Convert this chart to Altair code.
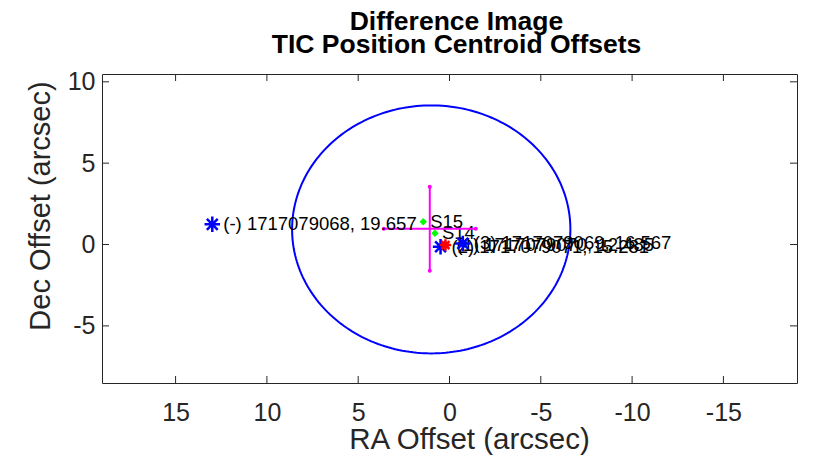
import altair as alt
import numpy as np
import pandas as pd

# ---- data ----
# TIC objects (RA offset, Dec offset in arcsec) and their labels
tic_ra = [12.99, 0.49, 0.22, -0.73]
tic_dec = [1.24, -0.14, -0.03, 0.07]
tic_label = ["(-) 1717079068, 19.657", "(2) 1717079071, 15.281",
             "(1) 1717079070, 12.485", "(3) 1717079069, 16.567"]
tic_target = [False, False, True, False]

# per-sector centroid offsets
sector_ra = [1.44, 0.80]
sector_dec = [1.40, 0.69]
sector_label = ["S15", "S14"]

# mean centroid offset and its error bars
mean_ra = [1.08]
mean_dec = [0.97]
ra_err = [2.52]
dec_err = [2.58]

# 3-sigma circle
circle_ra = 1.0
circle_dec = 0.93
circle_r = 7.62

x_ticks = [-15, -10, -5, 0, 5, 10, 15]
y_ticks = [-5, 0, 5, 10]

W, H = 695, 309
FONT = "Liberation Sans"
AX = "#262626"
TL = 7

xscale = alt.Scale(domain=[-19.03, 19.03], reverse=True, nice=False, zero=False)
yscale = alt.Scale(domain=[-8.51, 10.48], nice=False, zero=False)
xaxis = alt.Axis(values=x_ticks, ticks=False, tickSize=0, domain=False, grid=False,
                 labelFontSize=25, labelFont=FONT, labelColor=AX,
                 labelBaseline="alphabetic", labelPadding=37,
                 labelExpr="'' + datum.value",
                 title="RA Offset (arcsec)", titleFont=FONT, titleFontSize=29.5,
                 titleFontWeight="normal", titleColor=AX,
                 titleX=367, titleY=65, titleBaseline="alphabetic", titleAlign="center")
yaxis = alt.Axis(values=y_ticks, ticks=False, tickSize=0, domain=False, grid=False,
                 labelFontSize=25, labelFont=FONT, labelColor=AX,
                 labelBaseline="middle", labelAlign="right", labelPadding=7,
                 labelExpr="'' + datum.value",
                 title="Dec Offset (arcsec)", titleFont=FONT, titleFontSize=29,
                 titleFontWeight="normal", titleColor=AX, titleAngle=270,
                 titleX=-53, titleY=131.5, titleBaseline="alphabetic", titleAlign="center")


def X(f):
    return alt.X(f, type="quantitative", scale=xscale, axis=xaxis)


def Y(f):
    return alt.Y(f, type="quantitative", scale=yscale, axis=yaxis)


tic = pd.DataFrame({"ra": tic_ra, "dec": tic_dec, "label": tic_label, "target": tic_target})
sec = pd.DataFrame({"ra": sector_ra, "dec": sector_dec, "label": sector_label})
mean = pd.DataFrame({"ra": mean_ra, "dec": mean_dec, "ra_err": ra_err, "dec_err": dec_err})
mean["ra_lo"] = mean["ra"] - mean["ra_err"]
mean["ra_hi"] = mean["ra"] + mean["ra_err"]
mean["dec_lo"] = mean["dec"] - mean["dec_err"]
mean["dec_hi"] = mean["dec"] + mean["dec_err"]
ends = pd.DataFrame({
    "ra": [mean_ra[0] - ra_err[0], mean_ra[0] + ra_err[0], mean_ra[0], mean_ra[0]],
    "dec": [mean_dec[0], mean_dec[0], mean_dec[0] - dec_err[0], mean_dec[0] + dec_err[0]],
})

theta = np.linspace(0, 2 * np.pi, 241)
circ = pd.DataFrame({"ra": circle_ra + circle_r * np.cos(theta),
                     "dec": circle_dec + circle_r * np.sin(theta),
                     "i": np.arange(len(theta))})

xt = pd.DataFrame({"v": x_ticks})
yt = pd.DataFrame({"v": y_ticks})

STAR = "M-1,0L1,0M0,-1L0,1M-0.7,-0.7L0.7,0.7M-0.7,0.7L0.7,-0.7"

ellipse = alt.Chart(circ).mark_line(color="#0000FF", strokeWidth=2).encode(
    x=X("ra"), y=Y("dec"), order="i:Q")

sec_pts = alt.Chart(sec).mark_point(shape="diamond", filled=True, color="#00FF00",
                                   size=55, opacity=1).encode(x=X("ra"), y=Y("dec"))
sec_txt = alt.Chart(sec).mark_text(align="left", baseline="middle", dx=7, font=FONT,
                                  fontSize=18.5, color="black").encode(
    x=X("ra"), y=Y("dec"), text="label:N")

hbar = alt.Chart(mean).mark_rule(color="#FF00FF", strokeWidth=2).encode(
    x=X("ra_lo"), x2="ra_hi:Q", y=Y("dec"))
vbar = alt.Chart(mean).mark_rule(color="#FF00FF", strokeWidth=2).encode(
    x=X("ra"), y=Y("dec_lo"), y2="dec_hi:Q")
end_pts = alt.Chart(ends).mark_point(shape="circle", filled=True, color="#FF00FF",
                                    size=16, opacity=1).encode(x=X("ra"), y=Y("dec"))

tic_txt = alt.Chart(tic).mark_text(align="left", baseline="middle", dx=11, font=FONT,
                                  fontSize=18.5, color="black").encode(
    x=X("ra"), y=Y("dec"), text="label:N")
blue_stars = alt.Chart(tic).transform_filter("!datum.target").mark_point(
    shape=STAR, filled=False, color="#0000FF", size=240, strokeWidth=2.5, opacity=1).encode(
    x=X("ra"), y=Y("dec"))
red_stars = alt.Chart(tic).transform_filter("datum.target").mark_point(
    shape=STAR, filled=False, color="#FF0000", size=130, strokeWidth=2.5, opacity=1).encode(
    x=X("ra"), y=Y("dec"))

xt_top = alt.Chart(xt).mark_rule(color=AX, strokeWidth=1).encode(
    x=X("v"), y=alt.value(0), y2=alt.value(TL))
xt_bot = alt.Chart(xt).mark_rule(color=AX, strokeWidth=1).encode(
    x=X("v"), y=alt.value(H), y2=alt.value(H - TL))
yt_left = alt.Chart(yt).mark_rule(color=AX, strokeWidth=1).encode(
    y=Y("v"), x=alt.value(0), x2=alt.value(TL))
yt_right = alt.Chart(yt).mark_rule(color=AX, strokeWidth=1).encode(
    y=Y("v"), x=alt.value(W), x2=alt.value(W - TL))

chart = alt.layer(
    ellipse, sec_txt, sec_pts, hbar, vbar, end_pts, tic_txt, blue_stars, red_stars,
    xt_top, xt_bot, yt_left, yt_right,
).properties(
    width=W, height=H,
    autosize=alt.AutoSizeParams(type="none"),
    padding={"left": 94, "top": 66, "right": 12, "bottom": 80},
    title=alt.TitleParams(
        text=["Difference Image", "TIC Position Centroid Offsets"],
        font=FONT, fontSize=26.5, fontWeight="bold", color="black",
        anchor="middle", frame="group", baseline="alphabetic", lineHeight=23,
        offset=-10, dx=7,
    ),
).configure_view(stroke=AX, strokeWidth=1)

chart.save("out.html", embed_options={"renderer": "svg", "actions": False})
